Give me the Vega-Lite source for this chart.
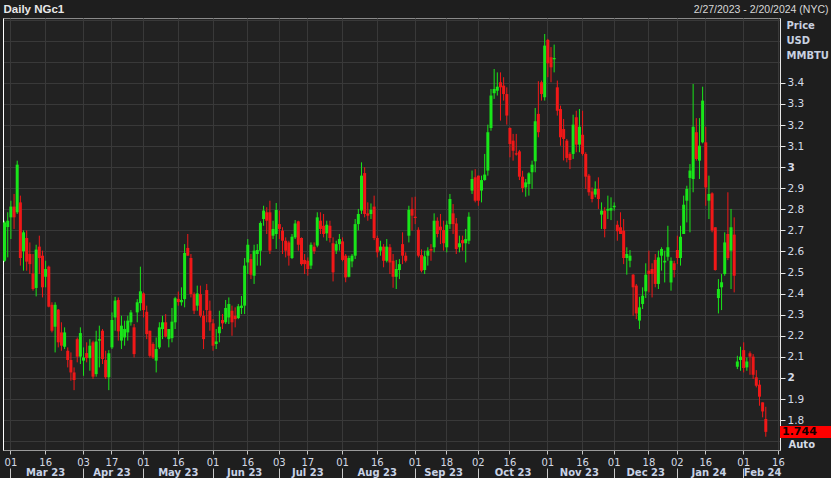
{
"$schema": "https://vega.github.io/schema/vega-lite/v6.json",
"width": 777, "height": 432,
"autosize": {"type": "none"},
"padding": {"left": 3, "top": 18, "right": 51, "bottom": 28},
"background": "#1e1e1e",
"config": {
  "view": {"fill": "#222222", "stroke": "#8a8a8a", "strokeWidth": 1},
  "axis": {"labelFont": "DejaVu Sans", "titleFont": "DejaVu Sans", "labelColor": "#d5dbe6", "titleColor": "#d5dbe6"}
},
"data": {"values": [
{"d":"2023-02-27","o":2.556,"h":2.746,"l":2.55,"c":2.738},
{"d":"2023-02-28","o":2.716,"h":2.786,"l":2.572,"c":2.746},
{"d":"2023-03-01","o":2.762,"h":2.841,"l":2.659,"c":2.813},
{"d":"2023-03-02","o":2.813,"h":2.873,"l":2.707,"c":2.762},
{"d":"2023-03-03","o":2.786,"h":3.031,"l":2.778,"c":3.012},
{"d":"2023-03-06","o":2.833,"h":2.865,"l":2.533,"c":2.569},
{"d":"2023-03-07","o":2.601,"h":2.7,"l":2.509,"c":2.691},
{"d":"2023-03-08","o":2.664,"h":2.7,"l":2.509,"c":2.552},
{"d":"2023-03-09","o":2.588,"h":2.643,"l":2.493,"c":2.54},
{"d":"2023-03-10","o":2.496,"h":2.588,"l":2.414,"c":2.422},
{"d":"2023-03-13","o":2.427,"h":2.632,"l":2.387,"c":2.609},
{"d":"2023-03-14","o":2.623,"h":2.675,"l":2.493,"c":2.569},
{"d":"2023-03-15","o":2.58,"h":2.604,"l":2.382,"c":2.43},
{"d":"2023-03-16","o":2.48,"h":2.556,"l":2.43,"c":2.517},
{"d":"2023-03-17","o":2.528,"h":2.533,"l":2.335,"c":2.338},
{"d":"2023-03-20","o":2.347,"h":2.359,"l":2.216,"c":2.224},
{"d":"2023-03-21","o":2.243,"h":2.359,"l":2.121,"c":2.347},
{"d":"2023-03-22","o":2.324,"h":2.327,"l":2.145,"c":2.169},
{"d":"2023-03-23","o":2.216,"h":2.264,"l":2.129,"c":2.153},
{"d":"2023-03-24","o":2.148,"h":2.24,"l":2.137,"c":2.216},
{"d":"2023-03-27","o":2.129,"h":2.145,"l":2.05,"c":2.085},
{"d":"2023-03-28","o":2.085,"h":2.121,"l":1.987,"c":2.026},
{"d":"2023-03-29","o":2.026,"h":2.05,"l":1.942,"c":1.99},
{"d":"2023-03-30","o":2.184,"h":2.192,"l":2.074,"c":2.101},
{"d":"2023-03-31","o":2.101,"h":2.24,"l":2.066,"c":2.213},
{"d":"2023-04-03","o":2.082,"h":2.145,"l":2.01,"c":2.097},
{"d":"2023-04-04","o":2.118,"h":2.169,"l":2.074,"c":2.094},
{"d":"2023-04-05","o":2.094,"h":2.184,"l":2.034,"c":2.153},
{"d":"2023-04-06","o":2.169,"h":2.177,"l":1.995,"c":2.006},
{"d":"2023-04-10","o":2.018,"h":2.224,"l":2.006,"c":2.173},
{"d":"2023-04-11","o":2.177,"h":2.248,"l":2.05,"c":2.184},
{"d":"2023-04-12","o":2.224,"h":2.232,"l":2.066,"c":2.09},
{"d":"2023-04-13","o":2.085,"h":2.129,"l":1.995,"c":2.003},
{"d":"2023-04-14","o":2.003,"h":2.132,"l":1.942,"c":2.117},
{"d":"2023-04-17","o":2.145,"h":2.311,"l":2.137,"c":2.275},
{"d":"2023-04-18","o":2.287,"h":2.385,"l":2.224,"c":2.367},
{"d":"2023-04-19","o":2.37,"h":2.382,"l":2.177,"c":2.221},
{"d":"2023-04-20","o":2.177,"h":2.295,"l":2.137,"c":2.248},
{"d":"2023-04-21","o":2.192,"h":2.272,"l":2.153,"c":2.232},
{"d":"2023-04-24","o":2.216,"h":2.295,"l":2.177,"c":2.272},
{"d":"2023-04-25","o":2.264,"h":2.322,"l":2.248,"c":2.311},
{"d":"2023-04-26","o":2.24,"h":2.256,"l":2.097,"c":2.113},
{"d":"2023-04-27","o":2.311,"h":2.374,"l":2.264,"c":2.359},
{"d":"2023-04-28","o":2.355,"h":2.528,"l":2.319,"c":2.411},
{"d":"2023-05-01","o":2.401,"h":2.406,"l":2.287,"c":2.322},
{"d":"2023-05-02","o":2.314,"h":2.343,"l":2.184,"c":2.208},
{"d":"2023-05-03","o":2.224,"h":2.224,"l":2.097,"c":2.105},
{"d":"2023-05-04","o":2.161,"h":2.169,"l":2.09,"c":2.097},
{"d":"2023-05-05","o":2.082,"h":2.192,"l":2.026,"c":2.137},
{"d":"2023-05-08","o":2.145,"h":2.264,"l":2.137,"c":2.24},
{"d":"2023-05-09","o":2.232,"h":2.295,"l":2.184,"c":2.264},
{"d":"2023-05-10","o":2.264,"h":2.303,"l":2.192,"c":2.196},
{"d":"2023-05-11","o":2.184,"h":2.232,"l":2.145,"c":2.232},
{"d":"2023-05-12","o":2.189,"h":2.332,"l":2.169,"c":2.267},
{"d":"2023-05-15","o":2.264,"h":2.385,"l":2.232,"c":2.378},
{"d":"2023-05-16","o":2.375,"h":2.41,"l":2.343,"c":2.36},
{"d":"2023-05-17","o":2.359,"h":2.43,"l":2.343,"c":2.37},
{"d":"2023-05-18","o":2.374,"h":2.635,"l":2.335,"c":2.593},
{"d":"2023-05-19","o":2.617,"h":2.683,"l":2.58,"c":2.58},
{"d":"2023-05-22","o":2.569,"h":2.588,"l":2.382,"c":2.398},
{"d":"2023-05-23","o":2.398,"h":2.406,"l":2.303,"c":2.319},
{"d":"2023-05-24","o":2.343,"h":2.438,"l":2.319,"c":2.401},
{"d":"2023-05-25","o":2.398,"h":2.438,"l":2.287,"c":2.295},
{"d":"2023-05-26","o":2.295,"h":2.319,"l":2.137,"c":2.184},
{"d":"2023-05-30","o":2.417,"h":2.446,"l":2.264,"c":2.322},
{"d":"2023-05-31","o":2.319,"h":2.367,"l":2.224,"c":2.264},
{"d":"2023-06-01","o":2.259,"h":2.279,"l":2.129,"c":2.153},
{"d":"2023-06-02","o":2.161,"h":2.232,"l":2.137,"c":2.173},
{"d":"2023-06-05","o":2.212,"h":2.319,"l":2.169,"c":2.243},
{"d":"2023-06-06","o":2.275,"h":2.303,"l":2.232,"c":2.259},
{"d":"2023-06-07","o":2.264,"h":2.37,"l":2.256,"c":2.332},
{"d":"2023-06-08","o":2.287,"h":2.382,"l":2.256,"c":2.351},
{"d":"2023-06-09","o":2.319,"h":2.343,"l":2.2,"c":2.264},
{"d":"2023-06-12","o":2.295,"h":2.335,"l":2.24,"c":2.279},
{"d":"2023-06-13","o":2.284,"h":2.351,"l":2.279,"c":2.34},
{"d":"2023-06-14","o":2.332,"h":2.389,"l":2.303,"c":2.343},
{"d":"2023-06-15","o":2.343,"h":2.569,"l":2.303,"c":2.533},
{"d":"2023-06-16","o":2.548,"h":2.659,"l":2.493,"c":2.632},
{"d":"2023-06-20","o":2.564,"h":2.588,"l":2.469,"c":2.49},
{"d":"2023-06-21","o":2.485,"h":2.632,"l":2.446,"c":2.604},
{"d":"2023-06-22","o":2.588,"h":2.635,"l":2.533,"c":2.607},
{"d":"2023-06-23","o":2.604,"h":2.743,"l":2.533,"c":2.735},
{"d":"2023-06-26","o":2.754,"h":2.817,"l":2.722,"c":2.794},
{"d":"2023-06-27","o":2.786,"h":2.81,"l":2.683,"c":2.746},
{"d":"2023-06-28","o":2.786,"h":2.841,"l":2.588,"c":2.604},
{"d":"2023-06-29","o":2.675,"h":2.746,"l":2.659,"c":2.707},
{"d":"2023-06-30","o":2.683,"h":2.83,"l":2.612,"c":2.797},
{"d":"2023-07-03","o":2.73,"h":2.794,"l":2.659,"c":2.707},
{"d":"2023-07-05","o":2.699,"h":2.715,"l":2.588,"c":2.651},
{"d":"2023-07-06","o":2.651,"h":2.667,"l":2.572,"c":2.604},
{"d":"2023-07-07","o":2.643,"h":2.651,"l":2.533,"c":2.58},
{"d":"2023-07-10","o":2.569,"h":2.683,"l":2.564,"c":2.67},
{"d":"2023-07-11","o":2.667,"h":2.749,"l":2.659,"c":2.733},
{"d":"2023-07-12","o":2.743,"h":2.746,"l":2.604,"c":2.632},
{"d":"2023-07-13","o":2.664,"h":2.667,"l":2.533,"c":2.54},
{"d":"2023-07-14","o":2.56,"h":2.588,"l":2.493,"c":2.54},
{"d":"2023-07-17","o":2.556,"h":2.572,"l":2.485,"c":2.517},
{"d":"2023-07-18","o":2.533,"h":2.643,"l":2.517,"c":2.632},
{"d":"2023-07-19","o":2.623,"h":2.643,"l":2.588,"c":2.601},
{"d":"2023-07-20","o":2.628,"h":2.786,"l":2.62,"c":2.762},
{"d":"2023-07-21","o":2.746,"h":2.786,"l":2.683,"c":2.707},
{"d":"2023-07-24","o":2.722,"h":2.778,"l":2.667,"c":2.683},
{"d":"2023-07-25","o":2.686,"h":2.746,"l":2.651,"c":2.727},
{"d":"2023-07-26","o":2.722,"h":2.746,"l":2.643,"c":2.664},
{"d":"2023-07-27","o":2.639,"h":2.667,"l":2.458,"c":2.501},
{"d":"2023-07-28","o":2.604,"h":2.651,"l":2.588,"c":2.635},
{"d":"2023-07-31","o":2.635,"h":2.683,"l":2.604,"c":2.659},
{"d":"2023-08-01","o":2.648,"h":2.667,"l":2.553,"c":2.56},
{"d":"2023-08-02","o":2.58,"h":2.588,"l":2.454,"c":2.477},
{"d":"2023-08-03","o":2.48,"h":2.58,"l":2.477,"c":2.569},
{"d":"2023-08-04","o":2.553,"h":2.588,"l":2.525,"c":2.58},
{"d":"2023-08-07","o":2.58,"h":2.754,"l":2.564,"c":2.73},
{"d":"2023-08-08","o":2.73,"h":2.802,"l":2.7,"c":2.778},
{"d":"2023-08-09","o":2.794,"h":3.023,"l":2.778,"c":2.96},
{"d":"2023-08-10","o":2.972,"h":3.0,"l":2.762,"c":2.778},
{"d":"2023-08-11","o":2.781,"h":2.833,"l":2.746,"c":2.77},
{"d":"2023-08-14","o":2.778,"h":2.828,"l":2.754,"c":2.798},
{"d":"2023-08-15","o":2.813,"h":2.865,"l":2.654,"c":2.664},
{"d":"2023-08-16","o":2.664,"h":2.675,"l":2.572,"c":2.596},
{"d":"2023-08-17","o":2.604,"h":2.651,"l":2.58,"c":2.623},
{"d":"2023-08-18","o":2.623,"h":2.635,"l":2.525,"c":2.556},
{"d":"2023-08-21","o":2.556,"h":2.659,"l":2.548,"c":2.623},
{"d":"2023-08-22","o":2.62,"h":2.635,"l":2.493,"c":2.548},
{"d":"2023-08-23","o":2.556,"h":2.588,"l":2.428,"c":2.48},
{"d":"2023-08-24","o":2.48,"h":2.56,"l":2.422,"c":2.517},
{"d":"2023-08-25","o":2.512,"h":2.564,"l":2.469,"c":2.54},
{"d":"2023-08-28","o":2.635,"h":2.691,"l":2.54,"c":2.58},
{"d":"2023-08-29","o":2.58,"h":2.596,"l":2.548,"c":2.556},
{"d":"2023-08-30","o":2.675,"h":2.817,"l":2.643,"c":2.798},
{"d":"2023-08-31","o":2.802,"h":2.857,"l":2.699,"c":2.77},
{"d":"2023-09-01","o":2.765,"h":2.86,"l":2.73,"c":2.759},
{"d":"2023-09-05","o":2.703,"h":2.715,"l":2.572,"c":2.58},
{"d":"2023-09-06","o":2.583,"h":2.61,"l":2.501,"c":2.509},
{"d":"2023-09-07","o":2.512,"h":2.604,"l":2.493,"c":2.577},
{"d":"2023-09-08","o":2.58,"h":2.62,"l":2.533,"c":2.604},
{"d":"2023-09-11","o":2.612,"h":2.635,"l":2.556,"c":2.604},
{"d":"2023-09-12","o":2.62,"h":2.781,"l":2.596,"c":2.746},
{"d":"2023-09-13","o":2.746,"h":2.762,"l":2.667,"c":2.683},
{"d":"2023-09-14","o":2.718,"h":2.778,"l":2.635,"c":2.702},
{"d":"2023-09-15","o":2.702,"h":2.746,"l":2.604,"c":2.639},
{"d":"2023-09-18","o":2.62,"h":2.746,"l":2.596,"c":2.727},
{"d":"2023-09-19","o":2.73,"h":2.873,"l":2.707,"c":2.849},
{"d":"2023-09-20","o":2.781,"h":2.825,"l":2.683,"c":2.73},
{"d":"2023-09-21","o":2.733,"h":2.759,"l":2.588,"c":2.612},
{"d":"2023-09-22","o":2.62,"h":2.675,"l":2.596,"c":2.639},
{"d":"2023-09-25","o":2.654,"h":2.675,"l":2.604,"c":2.639},
{"d":"2023-09-26","o":2.639,"h":2.707,"l":2.548,"c":2.659},
{"d":"2023-09-27","o":2.651,"h":2.786,"l":2.635,"c":2.765},
{"d":"2023-09-28","o":2.889,"h":2.984,"l":2.873,"c":2.944},
{"d":"2023-09-29","o":2.952,"h":2.991,"l":2.833,"c":2.841},
{"d":"2023-10-02","o":2.96,"h":2.96,"l":2.817,"c":2.841},
{"d":"2023-10-03","o":2.889,"h":2.96,"l":2.833,"c":2.939},
{"d":"2023-10-04","o":2.939,"h":3.063,"l":2.936,"c":2.965},
{"d":"2023-10-05","o":2.984,"h":3.202,"l":2.96,"c":3.166},
{"d":"2023-10-06","o":3.186,"h":3.371,"l":3.173,"c":3.34},
{"d":"2023-10-09","o":3.351,"h":3.466,"l":3.324,"c":3.371},
{"d":"2023-10-10","o":3.363,"h":3.45,"l":3.34,"c":3.382},
{"d":"2023-10-11","o":3.403,"h":3.45,"l":3.221,"c":3.379},
{"d":"2023-10-12","o":3.387,"h":3.427,"l":3.316,"c":3.347},
{"d":"2023-10-13","o":3.347,"h":3.379,"l":3.202,"c":3.245},
{"d":"2023-10-16","o":3.186,"h":3.189,"l":3.047,"c":3.11},
{"d":"2023-10-17","o":3.126,"h":3.158,"l":3.031,"c":3.078},
{"d":"2023-10-18","o":3.066,"h":3.158,"l":3.055,"c":3.06},
{"d":"2023-10-19","o":3.075,"h":3.082,"l":2.939,"c":2.955},
{"d":"2023-10-20","o":2.955,"h":2.983,"l":2.881,"c":2.901},
{"d":"2023-10-23","o":2.904,"h":2.944,"l":2.86,"c":2.928},
{"d":"2023-10-24","o":2.92,"h":2.976,"l":2.865,"c":2.971},
{"d":"2023-10-25","o":2.976,"h":3.031,"l":2.897,"c":3.012},
{"d":"2023-10-26","o":3.028,"h":3.281,"l":2.976,"c":3.218},
{"d":"2023-10-27","o":3.253,"h":3.408,"l":3.142,"c":3.166},
{"d":"2023-10-30","o":3.403,"h":3.411,"l":3.316,"c":3.347},
{"d":"2023-10-31","o":3.332,"h":3.632,"l":3.316,"c":3.577},
{"d":"2023-11-01","o":3.604,"h":3.609,"l":3.427,"c":3.493},
{"d":"2023-11-02","o":3.522,"h":3.57,"l":3.403,"c":3.474},
{"d":"2023-11-03","o":3.512,"h":3.582,"l":3.45,"c":3.518},
{"d":"2023-11-06","o":3.379,"h":3.411,"l":3.245,"c":3.268},
{"d":"2023-11-07","o":3.276,"h":3.292,"l":3.102,"c":3.142},
{"d":"2023-11-08","o":3.181,"h":3.229,"l":3.032,"c":3.134},
{"d":"2023-11-09","o":3.126,"h":3.134,"l":3.023,"c":3.044},
{"d":"2023-11-10","o":3.063,"h":3.071,"l":2.991,"c":3.034},
{"d":"2023-11-13","o":3.063,"h":3.249,"l":3.039,"c":3.202},
{"d":"2023-11-14","o":3.237,"h":3.268,"l":3.071,"c":3.107},
{"d":"2023-11-15","o":3.107,"h":3.276,"l":3.071,"c":3.192},
{"d":"2023-11-16","o":3.154,"h":3.268,"l":3.055,"c":3.063},
{"d":"2023-11-17","o":3.063,"h":3.071,"l":2.897,"c":2.955},
{"d":"2023-11-20","o":2.96,"h":2.968,"l":2.865,"c":2.881},
{"d":"2023-11-21","o":2.885,"h":2.904,"l":2.833,"c":2.849},
{"d":"2023-11-22","o":2.87,"h":2.933,"l":2.857,"c":2.897},
{"d":"2023-11-24","o":2.897,"h":2.952,"l":2.802,"c":2.849},
{"d":"2023-11-27","o":2.775,"h":2.833,"l":2.707,"c":2.794},
{"d":"2023-11-28","o":2.794,"h":2.81,"l":2.667,"c":2.707},
{"d":"2023-11-29","o":2.794,"h":2.865,"l":2.754,"c":2.802},
{"d":"2023-11-30","o":2.794,"h":2.857,"l":2.749,"c":2.806},
{"d":"2023-12-01","o":2.81,"h":2.833,"l":2.794,"c":2.817},
{"d":"2023-12-04","o":2.727,"h":2.746,"l":2.651,"c":2.696},
{"d":"2023-12-05","o":2.715,"h":2.786,"l":2.683,"c":2.683},
{"d":"2023-12-06","o":2.699,"h":2.754,"l":2.54,"c":2.569},
{"d":"2023-12-07","o":2.569,"h":2.62,"l":2.49,"c":2.588},
{"d":"2023-12-08","o":2.556,"h":2.607,"l":2.525,"c":2.58},
{"d":"2023-12-11","o":2.49,"h":2.493,"l":2.295,"c":2.43},
{"d":"2023-12-12","o":2.438,"h":2.446,"l":2.279,"c":2.306},
{"d":"2023-12-13","o":2.272,"h":2.385,"l":2.232,"c":2.335},
{"d":"2023-12-14","o":2.351,"h":2.43,"l":2.327,"c":2.39},
{"d":"2023-12-15","o":2.411,"h":2.544,"l":2.379,"c":2.49},
{"d":"2023-12-18","o":2.509,"h":2.604,"l":2.406,"c":2.493},
{"d":"2023-12-19","o":2.517,"h":2.544,"l":2.382,"c":2.493},
{"d":"2023-12-20","o":2.56,"h":2.588,"l":2.43,"c":2.446},
{"d":"2023-12-21","o":2.446,"h":2.604,"l":2.422,"c":2.572},
{"d":"2023-12-22","o":2.58,"h":2.62,"l":2.509,"c":2.612},
{"d":"2023-12-26","o":2.548,"h":2.604,"l":2.453,"c":2.556},
{"d":"2023-12-27","o":2.575,"h":2.722,"l":2.556,"c":2.62},
{"d":"2023-12-28","o":2.453,"h":2.572,"l":2.414,"c":2.556},
{"d":"2023-12-29","o":2.544,"h":2.556,"l":2.477,"c":2.512},
{"d":"2024-01-02","o":2.607,"h":2.675,"l":2.54,"c":2.569},
{"d":"2024-01-03","o":2.569,"h":2.722,"l":2.533,"c":2.67},
{"d":"2024-01-04","o":2.683,"h":2.865,"l":2.683,"c":2.822},
{"d":"2024-01-05","o":2.841,"h":2.912,"l":2.738,"c":2.897},
{"d":"2024-01-08","o":2.949,"h":3.015,"l":2.691,"c":2.984},
{"d":"2024-01-09","o":2.944,"h":3.395,"l":2.881,"c":3.192},
{"d":"2024-01-10","o":3.166,"h":3.233,"l":3.031,"c":3.039},
{"d":"2024-01-11","o":3.031,"h":3.233,"l":2.944,"c":3.102},
{"d":"2024-01-12","o":3.118,"h":3.382,"l":3.113,"c":3.316},
{"d":"2024-01-16","o":3.118,"h":3.192,"l":2.817,"c":2.904},
{"d":"2024-01-17","o":2.841,"h":2.96,"l":2.754,"c":2.873},
{"d":"2024-01-18","o":2.876,"h":2.881,"l":2.691,"c":2.7},
{"d":"2024-01-19","o":2.715,"h":2.715,"l":2.509,"c":2.512},
{"d":"2024-01-22","o":2.379,"h":2.469,"l":2.306,"c":2.422},
{"d":"2024-01-23","o":2.43,"h":2.493,"l":2.322,"c":2.454},
{"d":"2024-01-24","o":2.493,"h":2.691,"l":2.485,"c":2.643},
{"d":"2024-01-25","o":2.683,"h":2.881,"l":2.559,"c":2.569},
{"d":"2024-01-26","o":2.604,"h":2.802,"l":2.422,"c":2.715},
{"d":"2024-01-29","o":2.68,"h":2.762,"l":2.406,"c":2.485},
{"d":"2024-01-30","o":2.053,"h":2.105,"l":2.042,"c":2.078},
{"d":"2024-01-31","o":2.085,"h":2.148,"l":2.034,"c":2.101},
{"d":"2024-02-01","o":2.132,"h":2.169,"l":2.026,"c":2.047},
{"d":"2024-02-02","o":2.05,"h":2.097,"l":2.034,"c":2.078},
{"d":"2024-02-05","o":2.117,"h":2.126,"l":2.015,"c":2.101},
{"d":"2024-02-06","o":2.101,"h":2.113,"l":1.995,"c":2.015},
{"d":"2024-02-07","o":2.003,"h":2.037,"l":1.955,"c":1.963},
{"d":"2024-02-08","o":1.968,"h":1.99,"l":1.868,"c":1.911},
{"d":"2024-02-09","o":1.884,"h":1.884,"l":1.813,"c":1.841},
{"d":"2024-02-12","o":1.805,"h":1.863,"l":1.721,"c":1.744}
]},
"resolve": {"axis": {"x": "independent", "y": "independent"}},
"layer": [
{
  "mark": {"type": "rule", "strokeWidth": 1},
  "encoding": {
    "x": {"field": "d", "type": "ordinal",
      "scale": {"type": "band", "paddingInner": 0, "paddingOuter": 0, "domain": [
"2023-02-27","2023-02-28","2023-03-01","2023-03-02","2023-03-03","2023-03-06","2023-03-07","2023-03-08","2023-03-09","2023-03-10","2023-03-13","2023-03-14","2023-03-15","2023-03-16","2023-03-17","2023-03-20","2023-03-21","2023-03-22","2023-03-23","2023-03-24","2023-03-27","2023-03-28","2023-03-29","2023-03-30","2023-03-31",
"2023-04-03","2023-04-04","2023-04-05","2023-04-06","2023-04-10","2023-04-11","2023-04-12","2023-04-13","2023-04-14","2023-04-17","2023-04-18","2023-04-19","2023-04-20","2023-04-21","2023-04-24","2023-04-25","2023-04-26","2023-04-27","2023-04-28",
"2023-05-01","2023-05-02","2023-05-03","2023-05-04","2023-05-05","2023-05-08","2023-05-09","2023-05-10","2023-05-11","2023-05-12","2023-05-15","2023-05-16","2023-05-17","2023-05-18","2023-05-19","2023-05-22","2023-05-23","2023-05-24","2023-05-25","2023-05-26","2023-05-30","2023-05-31",
"2023-06-01","2023-06-02","2023-06-05","2023-06-06","2023-06-07","2023-06-08","2023-06-09","2023-06-12","2023-06-13","2023-06-14","2023-06-15","2023-06-16","2023-06-20","2023-06-21","2023-06-22","2023-06-23","2023-06-26","2023-06-27","2023-06-28","2023-06-29","2023-06-30",
"2023-07-03","2023-07-05","2023-07-06","2023-07-07","2023-07-10","2023-07-11","2023-07-12","2023-07-13","2023-07-14","2023-07-17","2023-07-18","2023-07-19","2023-07-20","2023-07-21","2023-07-24","2023-07-25","2023-07-26","2023-07-27","2023-07-28","2023-07-31",
"2023-08-01","2023-08-02","2023-08-03","2023-08-04","2023-08-07","2023-08-08","2023-08-09","2023-08-10","2023-08-11","2023-08-14","2023-08-15","2023-08-16","2023-08-17","2023-08-18","2023-08-21","2023-08-22","2023-08-23","2023-08-24","2023-08-25","2023-08-28","2023-08-29","2023-08-30","2023-08-31",
"2023-09-01","2023-09-05","2023-09-06","2023-09-07","2023-09-08","2023-09-11","2023-09-12","2023-09-13","2023-09-14","2023-09-15","2023-09-18","2023-09-19","2023-09-20","2023-09-21","2023-09-22","2023-09-25","2023-09-26","2023-09-27","2023-09-28","2023-09-29",
"2023-10-02","2023-10-03","2023-10-04","2023-10-05","2023-10-06","2023-10-09","2023-10-10","2023-10-11","2023-10-12","2023-10-13","2023-10-16","2023-10-17","2023-10-18","2023-10-19","2023-10-20","2023-10-23","2023-10-24","2023-10-25","2023-10-26","2023-10-27","2023-10-30","2023-10-31",
"2023-11-01","2023-11-02","2023-11-03","2023-11-06","2023-11-07","2023-11-08","2023-11-09","2023-11-10","2023-11-13","2023-11-14","2023-11-15","2023-11-16","2023-11-17","2023-11-20","2023-11-21","2023-11-22","2023-11-24","2023-11-27","2023-11-28","2023-11-29","2023-11-30",
"2023-12-01","2023-12-04","2023-12-05","2023-12-06","2023-12-07","2023-12-08","2023-12-11","2023-12-12","2023-12-13","2023-12-14","2023-12-15","2023-12-18","2023-12-19","2023-12-20","2023-12-21","2023-12-22","2023-12-26","2023-12-27","2023-12-28","2023-12-29",
"2024-01-02","2024-01-03","2024-01-04","2024-01-05","2024-01-08","2024-01-09","2024-01-10","2024-01-11","2024-01-12","2024-01-16","2024-01-17","2024-01-18","2024-01-19","2024-01-22","2024-01-23","2024-01-24","2024-01-25","2024-01-26","2024-01-29","2024-01-30","2024-01-31",
"2024-02-01","2024-02-02","2024-02-05","2024-02-06","2024-02-07","2024-02-08","2024-02-09","2024-02-12","2024-02-13","2024-02-14","2024-02-15","2024-02-16"]},
      "axis": {"orient": "bottom", "title": null, "values": ["2023-03-01","2023-03-16","2023-04-03","2023-04-17","2023-05-01","2023-05-16","2023-06-01","2023-06-16","2023-07-03","2023-07-17","2023-08-01","2023-08-16","2023-09-01","2023-09-18","2023-10-02","2023-10-16","2023-11-01","2023-11-16","2023-12-01","2023-12-18","2024-01-02","2024-01-16","2024-02-01","2024-02-16"],
        "labelExpr": "slice(datum.value, 8, 10)", "labelAngle": 0, "labelFontSize": 10, "labelPadding": 3, "labelOverlap": false, "labelFlush": false, "labelBaseline": "top",
        "tickSize": 4, "tickColor": "#c8c8c8", "domainColor": "#9a9a9a", "grid": true, "gridColor": "#393939", "bandPosition": 0.5}},
    "y": {"field": "l", "type": "quantitative", "scale": {"domain": [1.658, 3.708], "nice": false, "zero": false},
      "axis": {"orient": "right", "values": [1.7,1.8,1.9,2,2.1,2.2,2.3,2.4,2.5,2.6,2.7,2.8,2.9,3,3.1,3.2,3.3,3.4,3.5,3.6,3.7],
        "labelExpr": "datum.value > 3.45 || datum.value < 1.75 ? '' : format(datum.value, '.1~f')",
        "labelFontWeight": {"condition": {"test": "datum.value == 2 || datum.value == 3", "value": "bold"}, "value": "normal"},
        "tickOpacity": {"condition": {"test": "datum.value > 3.45 || datum.value < 1.75", "value": 0}, "value": 1},
        "labelFontSize": 10.5, "labelPadding": 2, "tickSize": 5, "tickColor": "#e6e6e6", "domainColor": "#e6e6e6",
        "grid": true, "gridColor": "#393939",
        "title": ["Price", "USD", "MMBTU"], "titleAngle": 0, "titleAlign": "left", "titleBaseline": "top", "titleX": 6, "titleY": 2,
        "titleFontSize": 10, "titleFontWeight": "bold", "titleLineHeight": 15, "titleColor": "#c9d1e0"}},
    "y2": {"field": "h"},
    "color": {"condition": {"test": "datum.c >= datum.o", "value": "#19e619"}, "value": "#f01818"}
  }
},
{
  "mark": {"type": "bar", "width": 3},
  "encoding": {
    "x": {"field": "d", "type": "ordinal", "axis": null},
    "y": {"field": "o", "type": "quantitative", "axis": null},
    "y2": {"field": "c"},
    "color": {"condition": {"test": "datum.c >= datum.o", "value": "#19e619"}, "value": "#f01818"}
  }
},
{
  "mark": {"type": "rule", "opacity": 0},
  "encoding": {
    "x": {"field": "d", "type": "ordinal",
      "axis": {"orient": "bottom", "title": null, "values": ["2023-03-16","2023-04-17","2023-05-16","2023-06-15","2023-07-17","2023-08-16","2023-09-15","2023-10-17","2023-11-15","2023-12-15","2024-01-17","2024-02-09"],
        "labelExpr": "utcFormat(toDate(datum.value), '%b %y')", "labelAngle": 0, "labelFontSize": 10, "labelFontWeight": "bold", "labelPadding": 17, "labelBaseline": "top",
        "labelOverlap": false, "labelFlush": false, "ticks": false, "tickSize": 0, "domain": false, "grid": false, "labelColor": "#c9d3e6"}},
    "y": {"field": "l", "type": "quantitative",
      "axis": {"orient": "left", "labels": false, "ticks": false, "grid": false, "domain": true, "domainColor": "#ffffff", "title": null}},
    "y2": {"field": "h"}
  }
},
{
  "mark": {"type": "rule", "opacity": 0},
  "encoding": {
    "x": {"field": "d", "type": "ordinal",
      "axis": {"orient": "bottom", "title": null, "values": ["2023-03-01","2023-04-03","2023-05-01","2023-06-01","2023-07-03","2023-08-01","2023-09-01","2023-10-02","2023-11-01","2023-12-01","2024-01-02","2024-02-01"],
        "labels": false, "domain": false, "grid": false, "ticks": true, "tickSize": 10, "offset": 18, "tickColor": "#c8c8c8"}}
  }
},
{
  "mark": {"type": "rule", "opacity": 0},
  "encoding": {
    "x": {"field": "d", "type": "ordinal",
      "axis": {"orient": "top", "labels": false, "ticks": false, "domain": false, "grid": false,
        "title": "Daily NGc1", "titleFont": "Liberation Sans", "titleFontSize": 11.5, "titleFontWeight": "bold", "titleColor": "#e8e8e8",
        "titleAlign": "left", "titleBaseline": "middle", "titleX": 0, "titleY": -9, "titleAnchor": "start"}}
  }
},
{
  "mark": {"type": "rule", "opacity": 0},
  "encoding": {
    "x": {"field": "d", "type": "ordinal",
      "axis": {"orient": "top", "labels": false, "ticks": false, "domain": false, "grid": false,
        "title": "2/27/2023 - 2/20/2024 (NYC)", "titleFont": "Liberation Sans", "titleFontSize": 10.5, "titleFontWeight": "normal", "titleColor": "#d8d8d8",
        "titleAlign": "right", "titleBaseline": "middle", "titleX": 825, "titleY": -9, "titleAnchor": "end"}}
  }
},
{
  "data": {"values": [{"p": 1.744}]},
  "mark": {"type": "tick", "orient": "horizontal", "color": "#ff0000", "size": 51, "thickness": 12, "opacity": 1, "xOffset": 25.5},
  "encoding": {
    "x": {"value": "width"},
    "y": {"field": "p", "type": "quantitative",
      "axis": {"orient": "right", "labels": false, "ticks": false, "domain": false, "grid": false,
        "title": "Auto", "titleAngle": 0, "titleAlign": "left", "titleBaseline": "middle", "titleX": 8, "titleY": 426,
        "titleFontSize": 10, "titleFontWeight": "bold", "titleColor": "#d5dbe6"}}
  }
},
{
  "data": {"values": [{"p": 1.744}]},
  "mark": {"type": "text", "align": "left", "baseline": "middle", "font": "DejaVu Sans", "fontSize": 11, "fontWeight": "bold", "color": "#140000", "dx": 2},
  "encoding": {
    "x": {"value": "width"},
    "y": {"field": "p", "type": "quantitative", "axis": null},
    "text": {"field": "p", "type": "quantitative", "format": ".3f"}
  }
}
]
}
